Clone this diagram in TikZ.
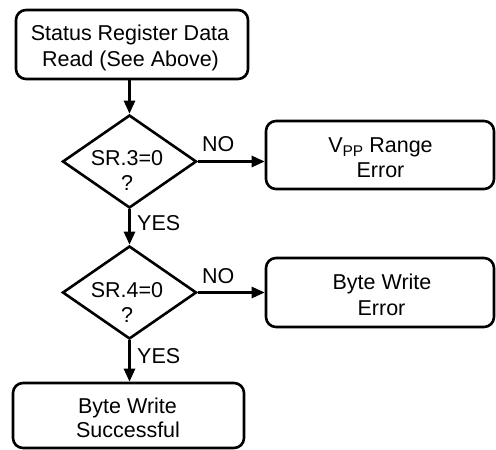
\documentclass[tikz,border=0pt]{standalone}
\usepackage{fontspec}
\setmainfont{Liberation Sans}
\usetikzlibrary{shapes.geometric,arrows.meta}
\begin{document}
\begin{tikzpicture}[x=1pt,y=1pt,
  txt/.style={font=\fontsize{21.5}{25.5}\selectfont, inner sep=0pt, anchor=base},
  rbox/.style={draw, line width=2.6pt, rounded corners=10pt, inner sep=0pt},
  dia/.style={draw, diamond, line width=2.6pt, inner sep=0pt, minimum width=134pt, minimum height=93pt},
  lbl/.style={font=\fontsize{21.5}{25.5}\selectfont, inner sep=0pt, anchor=base west},
  arr/.style={line width=2.6pt, -{Triangle[length=13pt,width=11pt]}}]
\useasboundingbox (0,0) rectangle (496,-450);
% boxes
\node[rbox, minimum width=232pt, minimum height=69pt] (top) at (132,-44.5) {};
\node[txt] (topa) at (130,-40) {Status Register Data};
\node[txt] (topb) at (130.5,-66) {Read (See Above)};
\node[dia] (d1) at (129.5,-161.5) {};
\node[txt] (d1a) at (127,-165) {SR.3=0};
\node[txt] (d1b) at (127,-190) {?};
\node[rbox, minimum width=228pt, minimum height=68pt] (e1) at (380,-155) {};
\node[txt] (e1a) at (380.5,-152) {V\raisebox{-4pt}{\fontsize{15.5}{15.5}\selectfont PP}\hspace{6pt}Range};
\node[txt] (e1b) at (380.5,-177) {Error};
\node[dia] (d2) at (129.5,-292.5) {};
\node[txt] (d2a) at (127,-297) {SR.4=0};
\node[txt] (d2b) at (127,-322) {?};
\node[rbox, minimum width=228pt, minimum height=69pt] (e2) at (380,-292.5) {};
\node[txt] (e2a) at (382,-289.5) {Byte Write};
\node[txt] (e2b) at (381.5,-315) {Error};
\node[rbox, minimum width=231pt, minimum height=65pt] (ok) at (128.5,-415.5) {};
\node[txt] (oka) at (127.5,-413) {Byte Write};
\node[txt] (okb) at (128,-437) {Successful};
% labels
\node[lbl] (no1) at (202,-151) {NO};
\node[lbl] (no2) at (202,-283) {NO};
\node[lbl] (yes1) at (137,-230) {YES};
\node[lbl] (yes2) at (137,-363) {YES};
% connectors
\draw[arr] (top.south -| d1.north) -- (d1.north);
\draw[arr] (d1.east) -- (d1.east -| e1.west);
\draw[arr] (d1.south) -- (d2.north);
\draw[arr] (d2.east) -- (d2.east -| e2.west);
\draw[arr] (d2.south) -- (d2.south |- ok.north);
\end{tikzpicture}
\end{document}
